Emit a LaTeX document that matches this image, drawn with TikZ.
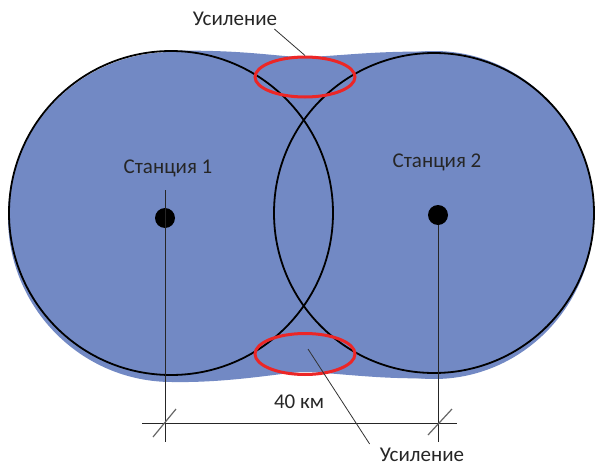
\documentclass[tikz,border=0pt]{standalone}
\usepackage{fontspec}
\setmainfont{Carlito}
\usepackage{xcolor}
\usetikzlibrary{shapes.geometric}
\definecolor{zone}{RGB}{114,137,196}
\definecolor{gain}{RGB}{236,38,38}
\definecolor{lead}{RGB}{50,50,50}

\begin{document}
\begin{tikzpicture}[x=1pt, y=-1pt,
    lbl/.style = {font=\fontsize{21}{24}\selectfont, text=black!85, inner sep=0pt},
    ring/.style = {draw=black, line width=1.8pt},
    gainring/.style = {draw=gain, line width=3pt, ellipse, inner sep=0pt},
    dot/.style = {circle, fill=black, inner sep=0pt, minimum size=20pt},
    thinline/.style = {draw=black!85, line width=0.9pt},
    tick/.style = {draw=black!60, line width=1.2pt}
    ]
\useasboundingbox (0,0) rectangle (598,466);

\fill[zone] (172,217) ellipse [x radius=164, y radius=165];
\fill[zone] (434,215) ellipse [x radius=160, y radius=164];
\fill[zone] (168,51) .. controls (240,49) and (280,57) .. (303,57)
    .. controls (330,57) and (380,50) .. (434,52) -- (434,378)
    .. controls (380,380) and (330,372) .. (303,372)
    .. controls (280,373) and (230,383) .. (172,382) -- cycle;

\draw[ring] (171,213) circle [radius=162];
\draw[ring] (434,213) circle [radius=160];

\node[dot] (st1) at (165,218) {};
\node[dot] (st2) at (438,215) {};
\node[lbl] (name1) at (168,168) {Станция 1};
\node[lbl] (name2) at (437,162) {Станция 2};

\coordinate (top1) at (165,190);
\coordinate (foot1) at (165,442);
\coordinate (foot2) at (438,442);
\draw[thinline] (top1) -- (foot1);
\draw[thinline] (st2) -- (foot2);

\coordinate (dimL) at (142,423);
\coordinate (dimR) at (457,423);
\draw[thinline] (dimL) -- (dimR);
\draw[tick] (153,437) -- (176,409);
\draw[tick] (428,435) -- (452,409);
\node[lbl] (dist) at (299,402) {40 км};

\node[gainring, minimum width=100pt, minimum height=40pt] (gain1) at (305,77) {};
\node[gainring, minimum width=100pt, minimum height=41pt] (gain2) at (305,354) {};

\node[lbl] (amp1) at (235,19) {Усиление};
\node[lbl] (amp2) at (422,455) {Усиление};
\draw[draw=lead, line width=0.8pt] ([shift={(-3,3)}]amp1.south east) -- (gain1.north);
\draw[draw=lead, line width=0.8pt] ([shift={(3,-5)}]gain2.center) -- ([shift={(-10,-4)}]amp2.north west);
\end{tikzpicture}
\end{document}
